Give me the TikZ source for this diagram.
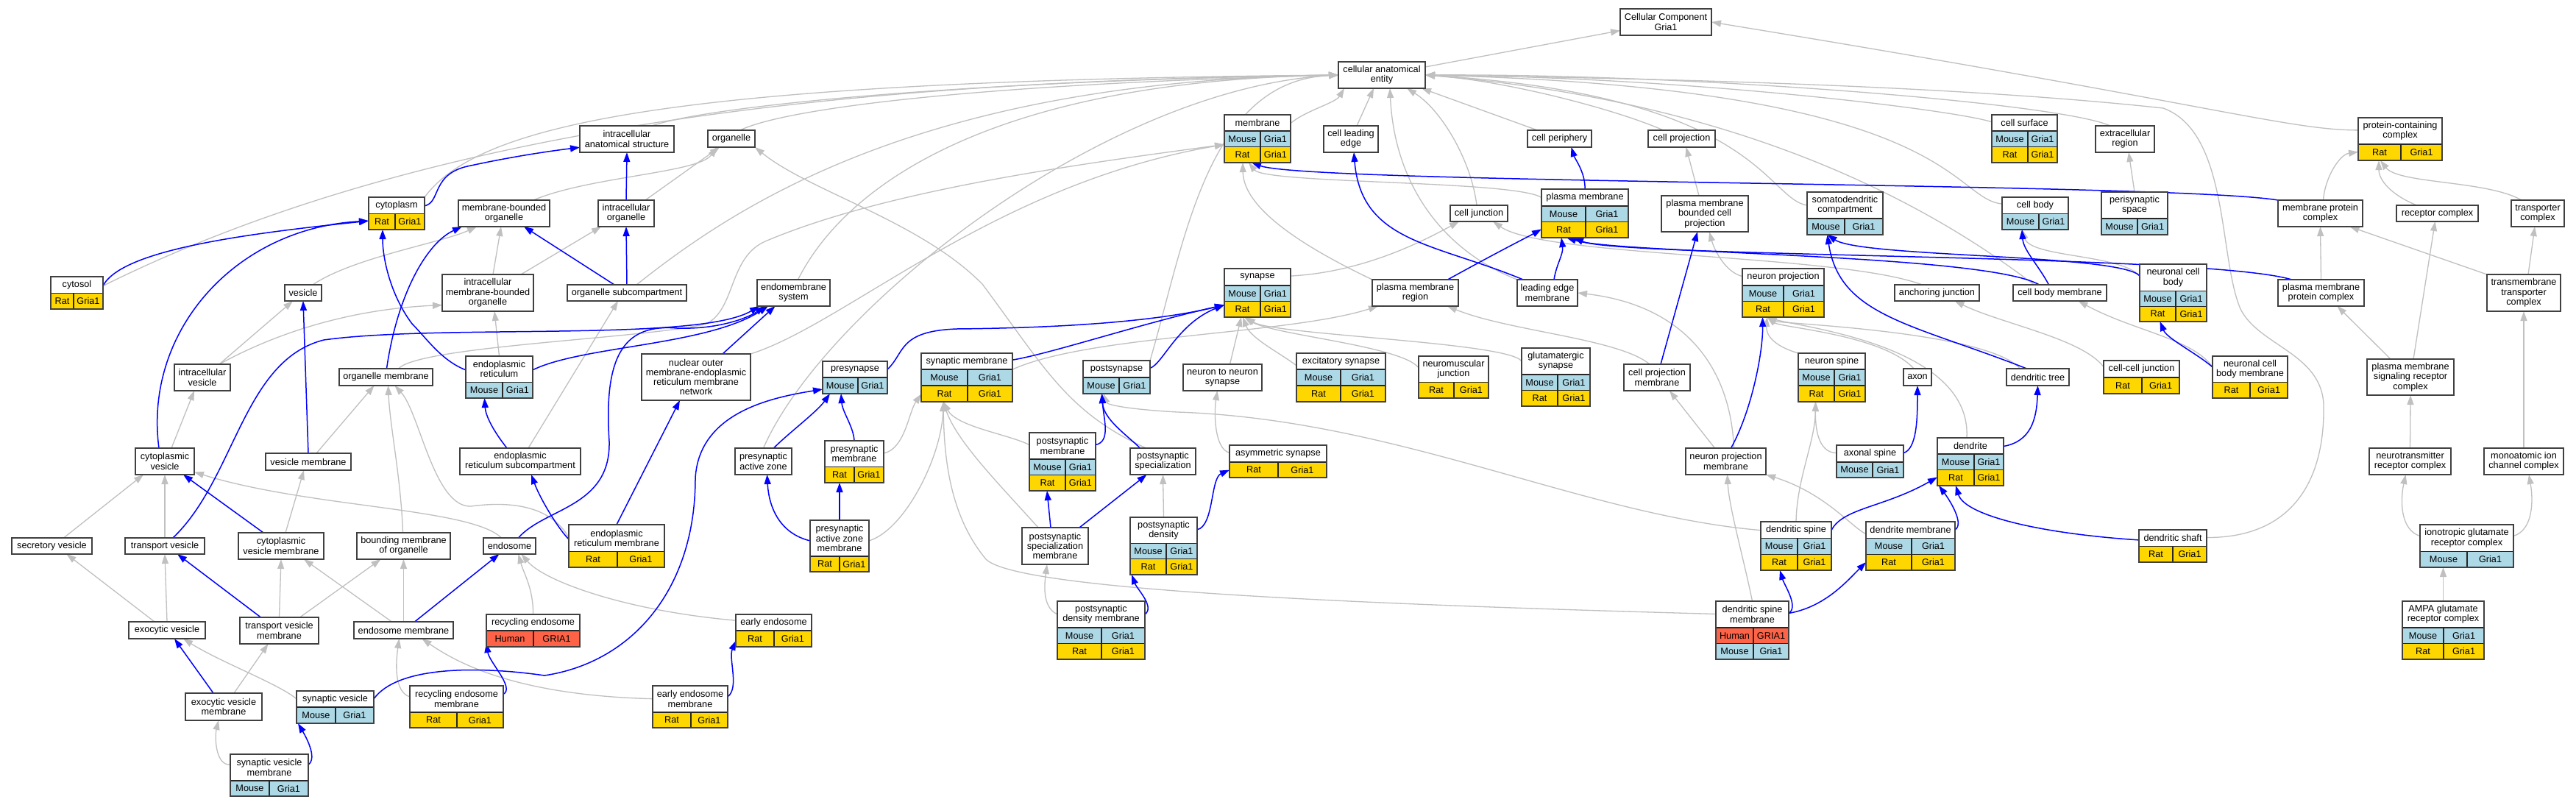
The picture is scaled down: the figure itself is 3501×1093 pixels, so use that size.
\documentclass[tikz,border=0pt]{standalone}
\usepackage{fontspec}
\setmainfont{Liberation Sans}
\usetikzlibrary{arrows.meta}
\definecolor{cM}{HTML}{ADD8E6}
\definecolor{cR}{HTML}{FFD700}
\definecolor{cH}{HTML}{FF6347}
\definecolor{egray}{HTML}{C0C0C0}
\definecolor{eblue}{HTML}{0000FF}
\def\spM{Mouse}\def\geM{Gria1}
\def\spR{Rat}\def\geR{Gria1}
\def\spH{Human}\def\geH{GRIA1}
\pgfdeclarelayer{edges}
\pgfsetlayers{edges,main}
\tikzset{
 ntext/.style={font=\fontsize{12.7}{13.3}\selectfont, align=center, inner sep=0pt, text=black},
 nbox/.style={draw=black!75, line width=1.5pt, inner sep=0pt, outer sep=0pt},
 sbox/.style={nbox, fill=white, ntext},
 cellln/.style={draw=black!85, line width=1.2pt},
 isa/.style={draw=egray, line width=1.3pt, -{Triangle[length=13pt,width=9pt]}},
 pof/.style={draw=eblue, line width=1.5pt, -{Triangle[length=13pt,width=9pt]}},
}
\newcommand\Sn[6]{\node[sbox, minimum width={#4-#2}, minimum height={#5-#3}] (#1) at ({(#2+#4)/2},{(#3+#5)/2}) {#6};}
\newcommand\Cell[7]{%
 \fill[c#7] ({#2},{#3}) rectangle ({#4},{#5});
 \draw[cellln] ({#2},{#3}) rectangle ({#4},{#5}) ({#6},{#3}) -- ({#6},{#5});
 \node[ntext] (#1a) at ({(#2+#6)/2},{(#3+#5)/2}) {\csname sp#7\endcsname};
 \node[ntext] (#1b) at ({(#6+#4)/2},{(#3+#5)/2}) {\csname ge#7\endcsname};}
\newcommand\TbA[9]{%
 \fill[white] ({#2},{#3}) rectangle ({#4},{#6});
 \Cell{#1r}{#2}{#6}{#4}{#5}{#7}{#9}%
 \node[ntext] (#1h) at ({(#2+#4)/2},{(#3+#6)/2}) {#8};
 \node[nbox, minimum width={#4-#2}, minimum height={#5-#3}] (#1) at ({(#2+#4)/2},{(#3+#5)/2}) {};}
\newcommand\TbBrows[8]{%
 \Cell{#1r}{#2}{#3}{#4}{(#3+#5)/2}{#6}{#7}%
 \Cell{#1s}{#2}{(#3+#5)/2}{#4}{#5}{#6}{#8}}
\newcommand\TbB[9]{%
 \fill[white] ({#2},{#3}) rectangle ({#4},{#6});
 \TbBrows{#1}{#2}{#6}{#4}{#5}{#7}#9%
 \node[ntext] (#1h) at ({(#2+#4)/2},{(#3+#6)/2}) {#8};
 \node[nbox, minimum width={#4-#2}, minimum height={#5-#3}] (#1) at ({(#2+#4)/2},{(#3+#5)/2}) {};}
\begin{document}
\begin{tikzpicture}[x=1pt,y=-1pt]
\useasboundingbox (0,0) rectangle (3501,1093);
% ---------- simple nodes
\Sn{cc}{2202}{12}{2326}{48}{Cellular Component\\Gria1}
\Sn{cae}{1819}{84}{1937}{120}{cellular anatomical\\entity}
\Sn{ias}{788}{171}{916}{207}{intracellular\\anatomical structure}
\Sn{org}{962}{177}{1026}{200}{organelle}
\Sn{cle}{1799}{171}{1873}{207}{cell leading\\edge}
\Sn{cper}{2076}{177}{2163}{200}{cell periphery}
\Sn{cproj}{2240}{177}{2331}{200}{cell projection}
\Sn{excr}{2848}{171}{2928}{207}{extracellular\\region}
\Sn{mbo}{623}{272}{747}{308}{membrane-bounded\\organelle}
\Sn{iorg}{813}{272}{889}{308}{intracellular\\organelle}
\Sn{cj}{1971}{279}{2049}{301}{cell junction}
\Sn{pmbcp}{2258}{266}{2376}{315}{plasma membrane\\bounded cell\\projection}
\Sn{mpc}{3096}{272}{3211}{308}{membrane protein\\complex}
\Sn{recc}{3257}{279}{3368}{301}{receptor complex}
\Sn{trc}{3413}{272}{3485}{308}{transporter\\complex}
\Sn{ves}{387}{387}{437}{409}{vesicle}
\Sn{imbo}{601}{373}{725}{423}{intracellular\\membrane-bounded\\organelle}
\Sn{osub}{771}{387}{933}{409}{organelle subcompartment}
\Sn{ems}{1029}{380}{1128}{416}{endomembrane\\system}
\Sn{nts}{1608}{495}{1715}{531}{neuron to neuron\\synapse}
\Sn{pmr}{1865}{380}{1982}{416}{plasma membrane\\region}
\Sn{lem}{2062}{380}{2144}{416}{leading edge\\membrane}
\Sn{anj}{2575}{387}{2690}{409}{anchoring junction}
\Sn{cbm}{2736}{387}{2863}{409}{cell body membrane}
\Sn{pmpc}{3096}{380}{3213}{416}{plasma membrane\\protein complex}
\Sn{tmtc}{3380}{373}{3480}{423}{transmembrane\\transporter\\complex}
\Sn{ivs}{237}{495}{313}{531}{intracellular\\vesicle}
\Sn{orgm}{461}{501}{588}{524}{organelle membrane}
\Sn{nom}{872}{481}{1020}{544}{nuclear outer\\membrane-endoplasmic\\reticulum membrane\\network}
\Sn{cpm}{2207}{495}{2297}{531}{cell projection\\membrane}
\Sn{axon}{2587}{501}{2625}{524}{axon}
\Sn{dtree}{2727}{501}{2812}{524}{dendritic tree}
\Sn{pmsrc}{3217}{488}{3335}{537}{plasma membrane\\signaling receptor\\complex}
\Sn{cyv}{184}{609}{264}{645}{cytoplasmic\\vesicle}
\Sn{vesm}{361}{616}{477}{639}{vesicle membrane}
\Sn{ersub}{625}{609}{789}{645}{endoplasmic\\reticulum subcompartment}
\Sn{paz}{999}{609}{1076}{645}{presynaptic\\active zone}
\Sn{pss}{1536}{609}{1625}{645}{postsynaptic\\specialization}
\Sn{npm}{2291}{609}{2400}{645}{neuron projection\\membrane}
\Sn{ntrc}{3220}{609}{3331}{645}{neurotransmitter\\receptor complex}
\Sn{maicc}{3376}{609}{3484}{645}{monoatomic ion\\channel complex}
\Sn{secv}{16}{731}{125}{753}{secretory vesicle}
\Sn{trv}{170}{731}{278}{753}{transport vesicle}
\Sn{cyvm}{324}{724}{440}{760}{cytoplasmic\\vesicle membrane}
\Sn{bmo}{485}{724}{612}{760}{bounding membrane\\of organelle}
\Sn{endo}{657}{731}{728}{753}{endosome}
\Sn{pssm}{1389}{717}{1479}{767}{postsynaptic\\specialization\\membrane}
\Sn{exv}{175}{845}{279}{868}{exocytic vesicle}
\Sn{trvm}{326}{839}{433}{875}{transport vesicle\\membrane}
\Sn{endom}{481}{845}{616}{868}{endosome membrane}
\Sn{exvm}{252}{942}{356}{979}{exocytic vesicle\\membrane}
% ---------- tables, one row
\TbA{cytop}{501}{268}{577}{312}{290.5}{537}{cytoplasm}{R}
\TbA{cytos}{69}{376}{140}{420}{398.5}{100}{cytosol}{R}
\TbA{pcc}{3205}{160}{3319}{218}{196}{3263}{protein-containing\\complex}{R}
\TbA{sdc}{2456}{261}{2559}{319}{297}{2507}{somatodendritic\\compartment}{M}
\TbA{cbody}{2721}{268}{2811}{312}{290.5}{2771}{cell body}{M}
\TbA{peri}{2856}{261}{2946}{319}{297}{2905}{perisynaptic\\space}{M}
\TbA{er}{633}{484}{724}{541}{519.5}{683}{endoplasmic\\reticulum}{M}
\TbA{presyn}{1118}{491}{1206}{535}{513}{1166}{presynapse}{M}
\TbA{postsyn}{1472}{490}{1563}{535}{513}{1521}{postsynapse}{M}
\TbA{nmj}{1928}{484}{2023}{541}{519.5}{1976}{neuromuscular\\junction}{R}
\TbA{ccj}{2859}{490}{2962}{535}{513}{2911}{cell-cell junction}{R}
\TbA{ncbm}{3007}{484}{3109}{541}{519.5}{3058}{neuronal cell\\body membrane}{R}
\TbA{presm}{1121}{599}{1201}{656}{634.5}{1161}{presynaptic\\membrane}{R}
\TbA{asym}{1671}{605}{1803}{649}{628}{1737}{asymmetric synapse}{R}
\TbA{axsp}{2496}{605}{2587}{649}{628}{2545}{axonal spine}{M}
\TbA{pazm}{1101}{707}{1181}{777}{756}{1141}{presynaptic\\active zone\\membrane}{R}
\TbA{erm}{773}{713}{903}{771}{749.5}{839}{endoplasmic\\reticulum membrane}{R}
\TbA{dshaft}{2907}{720}{2999}{764}{742.4}{2953}{dendritic shaft}{R}
\TbA{igrc}{3289}{713}{3416}{771}{749.5}{3353}{ionotropic glutamate\\receptor complex}{M}
\TbA{recyc}{661}{835}{788}{879}{857}{725}{recycling endosome}{H}
\TbA{earlye}{1000}{835}{1103}{879}{857}{1052}{early endosome}{R}
\TbA{synv}{403}{939}{508}{983}{961}{456}{synaptic vesicle}{M}
\TbA{recm}{557}{932}{684}{989}{968}{621}{recycling endosome\\membrane}{R}
\TbA{eem}{887}{932}{989}{989}{968}{939}{early endosome\\membrane}{R}
\TbA{svm}{313}{1025}{419}{1082}{1061}{366}{synaptic vesicle\\membrane}{M}
% ---------- tables, two rows
\TbB{memb}{1664}{156}{1754}{221}{178}{1713}{membrane}{MR}
\TbB{csurf}{2707}{156}{2796}{221}{178}{2756}{cell surface}{MR}
\TbB{pm}{2095}{257}{2213}{323}{280}{2155}{plasma membrane}{MR}
\TbB{syn}{1664}{365}{1754}{431}{388}{1713}{synapse}{MR}
\TbB{nproj}{2368}{365}{2479}{431}{388}{2424}{neuron projection}{MR}
\TbB{ncb}{2908}{359}{2999}{437}{395.5}{2957}{neuronal cell\\body}{MR}
\TbB{synm}{1252}{480}{1376}{546}{502}{1315}{synaptic membrane}{MR}
\TbB{excs}{1762}{480}{1883}{546}{502}{1822}{excitatory synapse}{MR}
\TbB{glus}{2068}{473}{2161}{552}{509}{2117}{glutamatergic\\synapse}{MR}
\TbB{nspine}{2444}{480}{2535}{546}{502}{2493}{neuron spine}{MR}
\TbB{psm}{1399}{588}{1489}{667}{624}{1448}{postsynaptic\\membrane}{MR}
\TbB{dend}{2633}{595}{2723}{660}{617}{2683}{dendrite}{MR}
\TbB{psd}{1536}{703}{1627}{781}{738.5}{1585}{postsynaptic\\density}{MR}
\TbB{dsp}{2393}{709}{2489}{775}{731.5}{2443}{dendritic spine}{MR}
\TbB{dmem}{2536}{709}{2657}{775}{731.5}{2598}{dendrite membrane}{MR}
\TbB{psdm}{1437}{817}{1556}{896}{853}{1497}{postsynaptic\\density membrane}{MR}
\TbB{dsm}{2332}{817}{2431}{896}{853}{2383}{dendritic spine\\membrane}{HM}
\TbB{ampa}{3265}{817}{3376}{896}{853}{3321}{AMPA glutamate\\receptor complex}{MR}
% ---------- edges
\begin{pgfonlayer}{edges}
\fill[white] (0,0) rectangle (3501,1093);
% to Cellular Component
\draw[isa] (cae) -- (cc);
\draw[isa] (pcc.168) .. controls (3110,177) and (3000,140) .. (cc.east);
% to cellular anatomical entity
\draw[isa] (cytos.15) .. controls (600,160) and (1200,110) .. (cae.west);
\draw[isa] (cytop.north east) .. controls (650,170) and (900,110) .. (cae.west);
\draw[isa] ([xshift=34pt]ias.north) .. controls (960,145) and (1300,110) .. (cae.west);
\draw[isa] ([xshift=12pt]org.north) .. controls (1060,150) and (1300,115) .. (cae.west);
\draw[isa] ([xshift=13pt]osub.north) .. controls (1000,280) and (1250,110) .. (cae.west);
\draw[isa] ([xshift=6pt]ems.north) .. controls (1150,250) and (1350,110) .. (cae.west);
\draw[isa] (paz.north) .. controls (1120,420) and (1500,120) .. (cae.west);
\draw[isa] (postsyn.north east) .. controls (1610,330) and (1640,110) .. (cae.west);
\draw[isa] (memb.25) .. controls (1775,150) and (1815,140) .. ([xshift=8pt]cae.south west);
\draw[isa] ([xshift=8pt]cle.north) -- ([xshift=48pt]cae.south west);
\draw[isa] (lem.north west) .. controls (1960,340) and (1895,250) .. ([xshift=70pt]cae.south west);
\draw[isa] ([xshift=-3pt]cj.north) .. controls (2000,220) and (1960,150) .. ([xshift=-25pt]cae.south east);
\draw[isa] ([xshift=-30pt]cper.north) -- ([xshift=-5pt]cae.south east);
\draw[isa] ([xshift=-25pt]cproj.north) .. controls (2200,150) and (2050,110) .. (cae.east);
\draw[isa] (csurf.153) .. controls (2660,150) and (2300,105) .. (cae.east);
\draw[isa] ([xshift=-20pt]excr.north) .. controls (2800,140) and (2300,100) .. (cae.east);
\draw[isa] (sdc.168) .. controls (2400,270) and (2390,130) .. (cae.east);
\draw[isa] (cbody.164) .. controls (2650,270) and (2660,120) .. (cae.east);
\draw[isa] ([xshift=-35pt]cbm.north) .. controls (2650,300) and (2400,140) .. (cae.east);
\draw[isa] (dshaft.14) .. controls (3110,731) and (3160,660) .. (3158,550) .. controls (3155,480) and (3070,470) .. (3045,420) .. controls (3015,350) and (3030,180) .. (2940,147) .. controls (2600,110) and (2100,105) .. (cae.east);
% other is_a
\draw[isa] (syn.27) .. controls (1850,370) and (1930,330) .. ([xshift=12pt]cj.south west);
\draw[isa] ([xshift=-20pt]anj.north) .. controls (2500,345) and (2100,350) .. ([xshift=-20pt]cj.south east);
\draw[isa] ([xshift=17pt]orgm.north) .. controls (570,470) and (880,460) .. (960,440) .. controls (1000,420) and (990,350) .. (1040,328) .. controls (1200,260) and (1450,225) .. (memb.190);
\draw[isa] (nom.north east) .. controls (1150,440) and (1350,250) .. (memb.190);
\draw[isa] (pm.160) .. controls (2060,245) and (1720,250) .. ([xshift=-12pt]memb.south);
\draw[isa] (pmr.north west) .. controls (1760,330) and (1690,280) .. ([xshift=-20pt]memb.south);
\draw[isa] (synm.10) .. controls (1480,455) and (1750,455) .. ([xshift=8pt]pmr.south west);
\draw[isa] ([xshift=-10pt]cpm.north) .. controls (2200,460) and (2050,450) .. ([xshift=-15pt]pmr.south east);
\draw[isa] ([xshift=-15pt]npm.north) -- ([xshift=17pt]cpm.south);
\draw[isa] ([xshift=11pt]npm.north) .. controls (2352,500) and (2290,415) .. (lem.east);
\draw[isa] (dsm.north) .. controls (2370,760) and (2350,690) .. ([xshift=2pt]npm.south);
\draw[isa] (dmem.165) .. controls (2515,715) and (2480,670) .. (npm.south east);
\draw[isa] (nproj.158) .. controls (2345,370) and (2330,340) .. ([xshift=6pt]pmbcp.south);
\draw[isa] ([xshift=-8pt]pmbcp.north) -- ([xshift=6pt]cproj.south);
\draw[isa] (ncb.153) .. controls (2880,345) and (2760,350) .. ([xshift=-18pt]cbody.south);
\draw[isa] ([xshift=-24pt]dtree.north) .. controls (2700,450) and (2420,440) .. ([xshift=-22pt]nproj.south);
\draw[isa] ([xshift=-5pt]axon.north) .. controls (2560,455) and (2420,445) .. ([xshift=-22pt]nproj.south);
\draw[isa] (nspine.north west) .. controls (2410,470) and (2400,455) .. ([xshift=-22pt]nproj.south);
\draw[isa] ([xshift=-5pt]dend.north) .. controls (2680,470) and (2450,445) .. ([xshift=-22pt]nproj.south);
\draw[isa] (axsp.166) .. controls (2470,615) and (2467,580) .. ([xshift=-22pt]nspine.south);
\draw[isa] (dsp.north) .. controls (2442,650) and (2467,600) .. ([xshift=-22pt]nspine.south);
\draw[isa] (dsp.156) .. controls (2150,700) and (1900,570) .. (1600,560) .. controls (1530,556) and (1505,550) .. ([xshift=-18pt]postsyn.south);
\draw[isa] (dsm.156) .. controls (1800,820) and (1380,800) .. (1340,760) .. controls (1290,700) and (1283,620) .. ([xshift=-32pt]synm.south);
\draw[isa] (pazm.10) .. controls (1230,720) and (1280,620) .. ([xshift=-32pt]synm.south);
\draw[isa] (psm.153) .. controls (1370,590) and (1300,580) .. ([xshift=-32pt]synm.south);
\draw[isa] ([xshift=-23pt]pssm.north) .. controls (1360,660) and (1300,600) .. ([xshift=-32pt]synm.south);
\draw[isa] (presm.16) .. controls (1230,610) and (1235,560) .. (synm.200);
\draw[isa] ([xshift=-23pt]pss.north) .. controls (1450,560) and (1420,500) .. (1335,386) .. controls (1250,300) and (1100,260) .. (org.south east);
\draw[isa] (psd.north) -- (pss.south);
\draw[isa] (psdm.160) .. controls (1415,825) and (1420,790) .. ([xshift=-11pt]pssm.south);
\draw[isa] (asym.170) .. controls (1650,610) and (1650,560) .. ([xshift=-7pt]nts.south);
\draw[isa] ([xshift=10pt]nts.north) -- ([xshift=-22pt]syn.south);
\draw[isa] (excs.165) .. controls (1740,480) and (1700,460) .. ([xshift=-20pt]syn.south);
\draw[isa] (nmj.165) .. controls (1905,470) and (1730,455) .. ([xshift=-18pt]syn.south);
\draw[isa] (glus.155) .. controls (2050,465) and (1730,455) .. ([xshift=-16pt]syn.south);
\draw[isa] (peri.north) -- ([xshift=5pt]excr.south);
\draw[isa] (ccj.165) .. controls (2830,460) and (2720,440) .. ([xshift=24pt]anj.south);
\draw[isa] (ncbm.165) .. controls (2980,460) and (2900,450) .. ([xshift=25pt]cbm.south);
% protein complexes
\draw[isa] ([xshift=4pt]mpc.north) .. controls (3160,240) and (3180,210) .. (pcc.197);
\draw[isa] ([xshift=-28pt]recc.north) .. controls (3250,265) and (3233,245) .. ([xshift=-29pt]pcc.south);
\draw[isa] ([xshift=-22pt]trc.north) .. controls (3380,245) and (3260,250) .. ([xshift=-27pt]pcc.south);
\draw[isa] (pmpc.north) -- (mpc.south);
\draw[isa] (tmtc.north west) -- ([xshift=40pt]mpc.south);
\draw[isa] ([xshift=6pt]tmtc.north) -- ([xshift=-4pt]trc.south);
\draw[isa] ([xshift=-27pt]pmsrc.north) -- ([xshift=22pt]pmpc.south);
\draw[isa] ([xshift=4pt]pmsrc.north) -- ([xshift=-3pt]recc.south);
\draw[isa] (ntrc.north) -- (pmsrc.south);
\draw[isa] (maicc.north) -- (tmtc.south);
\draw[isa] (igrc.168) .. controls (3262,720) and (3262,680) .. ([xshift=-6pt]ntrc.south);
\draw[isa] (igrc.12) .. controls (3443,720) and (3443,680) .. ([xshift=7pt]maicc.south);
\draw[isa] (ampa.north) -- ([xshift=-32pt]igrc.south);
% left region is_a
\draw[isa] ([xshift=40pt]mbo.north) .. controls (800,240) and (950,235) .. ([xshift=-20pt]org.south);
\draw[isa] ([xshift=26pt]iorg.north) -- ([xshift=-16pt]org.south);
\draw[isa] ([xshift=7pt]imbo.north) -- ([xshift=-4pt]mbo.south);
\draw[isa] ([xshift=45pt]imbo.north) -- ([xshift=-34pt]iorg.south);
\draw[isa] ([xshift=23pt]ivs.north) -- ([xshift=-14pt]ves.south);
\draw[isa] ([xshift=23pt]ivs.north) .. controls (380,450) and (480,420) .. (imbo.195);
\draw[isa] ([xshift=13pt]ves.north) .. controls (480,350) and (600,330) .. ([xshift=25pt]mbo.south west);
\draw[isa] ([xshift=9pt]cyv.north) -- ([xshift=-11pt]ivs.south);
\draw[isa] ([xshift=16pt]secv.north) -- ([xshift=-29pt]cyv.south);
\draw[isa] (trv.north) -- (cyv.south);
\draw[isa] ([xshift=6pt]cyvm.north) -- ([xshift=-6pt]vesm.south);
\draw[isa] ([xshift=11pt]vesm.north) -- ([xshift=-16pt]orgm.south);
\draw[isa] ([xshift=-1pt]bmo.north) .. controls (545,650) and (530,580) .. ([xshift=3pt]orgm.south);
\draw[isa] (erm.170) .. controls (750,690) and (700,680) .. (640,688) .. controls (590,690) and (570,560) .. ([xshift=12pt]orgm.south);
\draw[isa] ([xshift=11pt]ersub.north) -- ([xshift=-12pt]osub.south);
\draw[isa] (er.north) -- ([xshift=9pt]imbo.south);
\draw[isa] ([xshift=-11pt]endo.north) .. controls (640,690) and (420,690) .. (cyv.340);
\draw[isa] ([xshift=-16pt]endom.north) -- ([xshift=31pt]cyvm.south);
\draw[isa] (endom.north) -- (bmo.south);
\draw[isa] (trvm.north) -- (cyvm.south);
\draw[isa] ([xshift=28pt]trvm.north) -- ([xshift=-31pt]bmo.south);
\draw[isa] ([xshift=-17pt]exv.north) -- ([xshift=20pt]secv.south);
\draw[isa] (exv.north) -- (trv.south);
\draw[isa] ([xshift=14pt]exvm.north) -- ([xshift=-15pt]trvm.south);
\draw[isa] (synv.168) .. controls (380,930) and (300,900) .. ([xshift=22pt]exv.south);
\draw[isa] (svm.165) .. controls (292,1040) and (292,1000) .. ([xshift=-7pt]exvm.south);
\draw[isa] (recm.168) .. controls (535,940) and (538,900) .. ([xshift=-6pt]endom.south);
\draw[isa] (recyc.north) .. controls (725,800) and (712,780) .. ([xshift=12pt]endo.south);
\draw[isa] (earlye.165) .. controls (850,830) and (740,790) .. ([xshift=16pt]endo.south);
\draw[isa] (eem.168) .. controls (700,945) and (620,900) .. ([xshift=25pt]endom.south);
% part_of (blue)
\draw[pof] (cytos.15) .. controls (165,340) and (330,318) .. (cytop.195);
\draw[pof] ([xshift=-8pt]cyv.north) .. controls (195,450) and (320,310) .. (cytop.195);
\draw[pof] (cytop.15) .. controls (600,275) and (585,235) .. (640,225) .. controls (700,212) and (750,205) .. (ias.190);
\draw[pof] (er.168) .. controls (600,490) and (580,460) .. (560,440) .. controls (530,400) and (520,350) .. ([xshift=-19pt]cytop.south);
\draw[pof] (er.12) .. controls (790,470) and (960,470) .. ([xshift=15pt]ems.south west);
\draw[pof] ([xshift=1pt]orgm.north) .. controls (540,400) and (580,330) .. ([xshift=5pt]mbo.south west);
\draw[pof] (vesm.north) -- (ves.south);
\draw[pof] ([xshift=-24pt]cyvm.north) -- ([xshift=25pt]cyv.south);
\draw[pof] ([xshift=11pt]trv.north) .. controls (320,650) and (330,490) .. (440,462) .. controls (600,440) and (950,465) .. ([xshift=3pt]ems.south west);
\draw[pof] ([xshift=-25pt]trvm.north) -- ([xshift=17pt]trv.south);
\draw[pof] ([xshift=-14pt]exvm.north) -- ([xshift=10pt]exv.south);
\draw[pof] (svm.15) .. controls (432,1030) and (415,1000) .. ([xshift=2pt]synv.south west);
\draw[pof] (synv.12) .. controls (540,905) and (650,905) .. (740,918) .. controls (860,900) and (945,800) .. (945,650) .. controls (950,560) and (1050,540) .. (presyn.200);
\draw[pof] ([xshift=15pt]endom.north) -- ([xshift=-14pt]endo.south);
\draw[pof] (recm.15) .. controls (700,935) and (665,900) .. (recyc.195);
\draw[pof] (eem.15) .. controls (1005,935) and (990,895) .. (earlye.195);
\draw[pof] ([xshift=12pt]endo.north) .. controls (740,690) and (830,690) .. (828,600) .. controls (820,480) and (850,440) .. (920,446) .. controls (980,448) and (1020,430) .. ([xshift=10pt]ems.south west);
\draw[pof] ([xshift=-18pt]ersub.north) .. controls (670,585) and (660,565) .. ([xshift=-20pt]er.south);
\draw[pof] (erm.172) .. controls (760,720) and (735,680) .. ([xshift=15pt]ersub.south);
\draw[pof] (erm.north) -- ([xshift=-22pt]nom.south);
\draw[pof] ([xshift=36pt]nom.north) -- ([xshift=-25pt]ems.south);
\draw[pof] (iorg.north) -- (ias.south);
\draw[pof] ([xshift=-17pt]osub.north) -- ([xshift=27pt]mbo.south);
\draw[pof] (osub.north) -- (iorg.south);
\draw[pof] (presm.north) .. controls (1160,580) and (1145,560) .. ([xshift=-19pt]presyn.south);
\draw[pof] ([xshift=14pt]paz.north) .. controls (1070,590) and (1110,560) .. ([xshift=10pt]presyn.south west);
\draw[pof] (pazm.north) -- ([xshift=-20pt]presm.south);
\draw[pof] (pazm.170) .. controls (1060,725) and (1045,690) .. ([xshift=5pt]paz.south);
\draw[pof] (presyn.14) .. controls (1230,480) and (1220,450) .. (1300,447) .. controls (1500,445) and (1600,430) .. (syn.200);
\draw[pof] (synm.21) .. controls (1430,480) and (1550,440) .. (syn.200);
\draw[pof] (postsyn.15) .. controls (1580,495) and (1600,440) .. (syn.200);
\draw[pof] (psm.27) .. controls (1510,600) and (1500,570) .. ([xshift=-20pt]postsyn.south);
\draw[pof] ([xshift=-31pt]pss.north) .. controls (1530,590) and (1500,570) .. ([xshift=-20pt]postsyn.south);
\draw[pof] ([xshift=-6pt]pssm.north) -- ([xshift=-21pt]psm.south);
\draw[pof] ([xshift=33pt]pssm.north) -- ([xshift=-22pt]pss.south);
\draw[pof] (psdm.20) .. controls (1570,825) and (1545,800) .. ([xshift=2pt]psd.south west);
\draw[pof] (psd.26) .. controls (1650,715) and (1645,650) .. (asym.190);
\draw[pof] (pm.north) .. controls (2155,235) and (2140,215) .. ([xshift=16pt]cper.south);
\draw[pof] ([xshift=44pt]pmr.north) .. controls (2040,340) and (2080,320) .. (pm.200);
\draw[pof] ([xshift=9pt]lem.north) .. controls (2115,360) and (2125,345) .. ([xshift=-32pt]pm.south);
\draw[pof] ([xshift=-33pt]lem.north) .. controls (1950,330) and (1850,330) .. ([xshift=4pt]cle.south);
\draw[pof] ([xshift=-40pt]pmpc.north) .. controls (3000,345) and (2200,350) .. ([xshift=-15pt]pm.south);
\draw[pof] ([xshift=-28pt]cbm.north) .. controls (2700,345) and (2200,345) .. ([xshift=-25pt]pm.south);
\draw[pof] ([xshift=-15pt]cbm.north) .. controls (2770,360) and (2750,340) .. ([xshift=-18pt]cbody.south);
\draw[pof] (mpc.north west) .. controls (2950,248) and (1780,250) .. ([xshift=-8pt]memb.south);
\draw[pof] ([xshift=5pt]cpm.north) -- ([xshift=-10pt]pmbcp.south);
\draw[pof] ([xshift=7pt]npm.north) .. controls (2380,560) and (2396,480) .. ([xshift=-28pt]nproj.south);
\draw[pof] (ncb.153) .. controls (2880,345) and (2530,350) .. ([xshift=-24pt]sdc.south);
\draw[pof] ([xshift=-15pt]dtree.north) .. controls (2600,440) and (2500,430) .. ([xshift=-24pt]sdc.south);
\draw[pof] (dend.25) .. controls (2760,600) and (2768,570) .. (dtree.south);
\draw[pof] (axsp.14) .. controls (2605,610) and (2606,570) .. (axon.south);
\draw[pof] (dsp.24) .. controls (2505,690) and (2560,690) .. (dend.205);
\draw[pof] (dmem.20) .. controls (2670,712) and (2650,680) .. ([xshift=2pt]dend.south west);
\draw[pof] (dshaft.170) .. controls (2770,725) and (2670,700) .. ([xshift=-20pt]dend.south);
\draw[pof] (dsm.25) .. controls (2445,825) and (2425,795) .. ([xshift=-22pt]dsp.south);
\draw[pof] (dsm.25) .. controls (2480,825) and (2510,790) .. (dmem.200);
\draw[pof] (ncbm.165) .. controls (2985,480) and (2945,460) .. ([xshift=-18pt]ncb.south);
\end{pgfonlayer}
\end{tikzpicture}
\end{document}
